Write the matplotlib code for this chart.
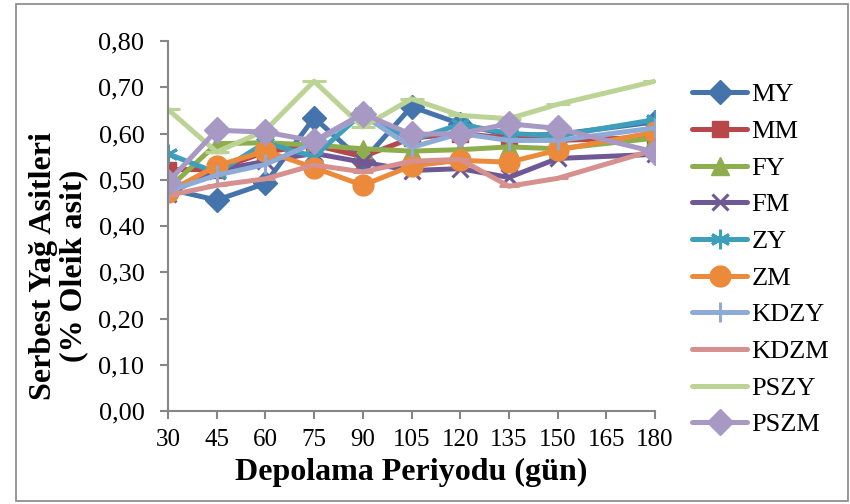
import matplotlib
matplotlib.use("Agg")
import matplotlib.pyplot as plt
from matplotlib.patches import Rectangle

days = [30, 45, 60, 75, 90, 105, 120, 135, 150, 180]
tick_days = [30, 45, 60, 75, 90, 105, 120, 135, 150, 165, 180]

MY = [0.480, 0.456, 0.492, 0.634, 0.540, 0.658, 0.621, 0.596, 0.598, 0.625]
MM = [0.522, 0.522, 0.560, 0.575, 0.550, 0.590, 0.600, 0.590, 0.585, 0.592]
FY = [0.480, 0.578, 0.580, 0.575, 0.567, 0.562, 0.565, 0.571, 0.567, 0.590]
FM = [0.470, 0.520, 0.540, 0.557, 0.538, 0.520, 0.524, 0.505, 0.546, 0.555]
ZY = [0.556, 0.515, 0.580, 0.550, 0.645, 0.585, 0.620, 0.600, 0.595, 0.630]
ZM = [0.474, 0.530, 0.562, 0.526, 0.488, 0.530, 0.542, 0.538, 0.564, 0.603]
KDZY = [0.475, 0.510, 0.533, 0.580, 0.640, 0.570, 0.600, 0.585, 0.585, 0.612]
KDZM = [0.466, 0.488, 0.502, 0.532, 0.517, 0.540, 0.544, 0.486, 0.503, 0.565]
PSZY = [0.652, 0.560, 0.607, 0.713, 0.614, 0.675, 0.639, 0.632, 0.663, 0.713]
PSZM = [0.495, 0.607, 0.603, 0.584, 0.643, 0.598, 0.600, 0.621, 0.611, 0.560]

series = [
    ("MY", MY, "#4574AD", "D", 12),
    ("MM", MM, "#B8474A", "s", 12),
    ("FY", FY, "#8EAE4E", "^", 13),
    ("FM", FM, "#6E5896", "x", 11),
    ("ZY", ZY, "#3E9FBB", (6, 2, 0), 14),
    ("ZM", ZM, "#EC8A3C", "o", 15),
    ("KDZY", KDZY, "#8EAAD6", "|", 14),
    ("KDZM", KDZM, "#D6918F", "_", 14),
    ("PSZY", PSZY, "#BBD394", "_", 17),
    ("PSZM", PSZM, "#A898C4", "D", 13),
]

plt.rcParams['font.family'] = ['Liberation Serif', 'DejaVu Serif']

fig = plt.figure(figsize=(8.5, 5.04), dpi=100)
ax = fig.add_axes([168/850, 1-411/504, (655-168)/850, (411-41)/504])

for name, vals, col, mk, ms in series:
    ax.plot(days, vals, color=col, lw=3.6, marker=mk, markersize=ms,
            markeredgewidth=2.2 if mk in ("x", (6, 2, 0), "|", "_") else 1,
            markerfacecolor=col, markeredgecolor=col, label=name,
            solid_capstyle='round', solid_joinstyle='round')

ax.set_xlim(30, 180)
ax.set_ylim(0, 0.8)
ax.set_xticks(tick_days)
ax.set_xticklabels([str(d) for d in tick_days], fontsize=18)
yt = [i/10 for i in range(9)]
ax.set_yticks(yt)
ax.set_yticklabels([f"{v:.2f}".replace(".", ",") for v in yt], fontsize=19)
for s in ("top", "right"):
    ax.spines[s].set_visible(False)
for s in ("left", "bottom"):
    ax.spines[s].set_color("#868686")
    ax.spines[s].set_linewidth(1.5)
ax.tick_params(axis='both', colors="#868686", labelcolor="black",
               length=6, width=1.5, direction='out')
ax.tick_params(axis='x', pad=7)
ax.tick_params(axis='y', pad=11)

ax.set_xlabel("Depolama Periyodu (gün)", fontsize=23, fontweight='bold', labelpad=5)
ax.set_ylabel("Serbest Yağ Asitleri\n(% Oleik asit)", fontsize=23, fontweight='bold',
              linespacing=1.05)
ax.yaxis.set_label_coords(-0.164, 0.392)

leg = ax.legend(loc='upper left', frameon=False, fontsize=19, handlelength=2.1,
                handletextpad=0.15, labelspacing=0.5, borderaxespad=0, borderpad=0)
leg.set_bbox_to_anchor((692/850, 1-83/504), transform=fig.transFigure)

fig.patches.append(Rectangle((16/850, 3/504), (848-16)/850, (500-3)/504,
                             transform=fig.transFigure, fill=False,
                             edgecolor="#868686", lw=1.2))

fig.savefig("out.png", dpi=100)
